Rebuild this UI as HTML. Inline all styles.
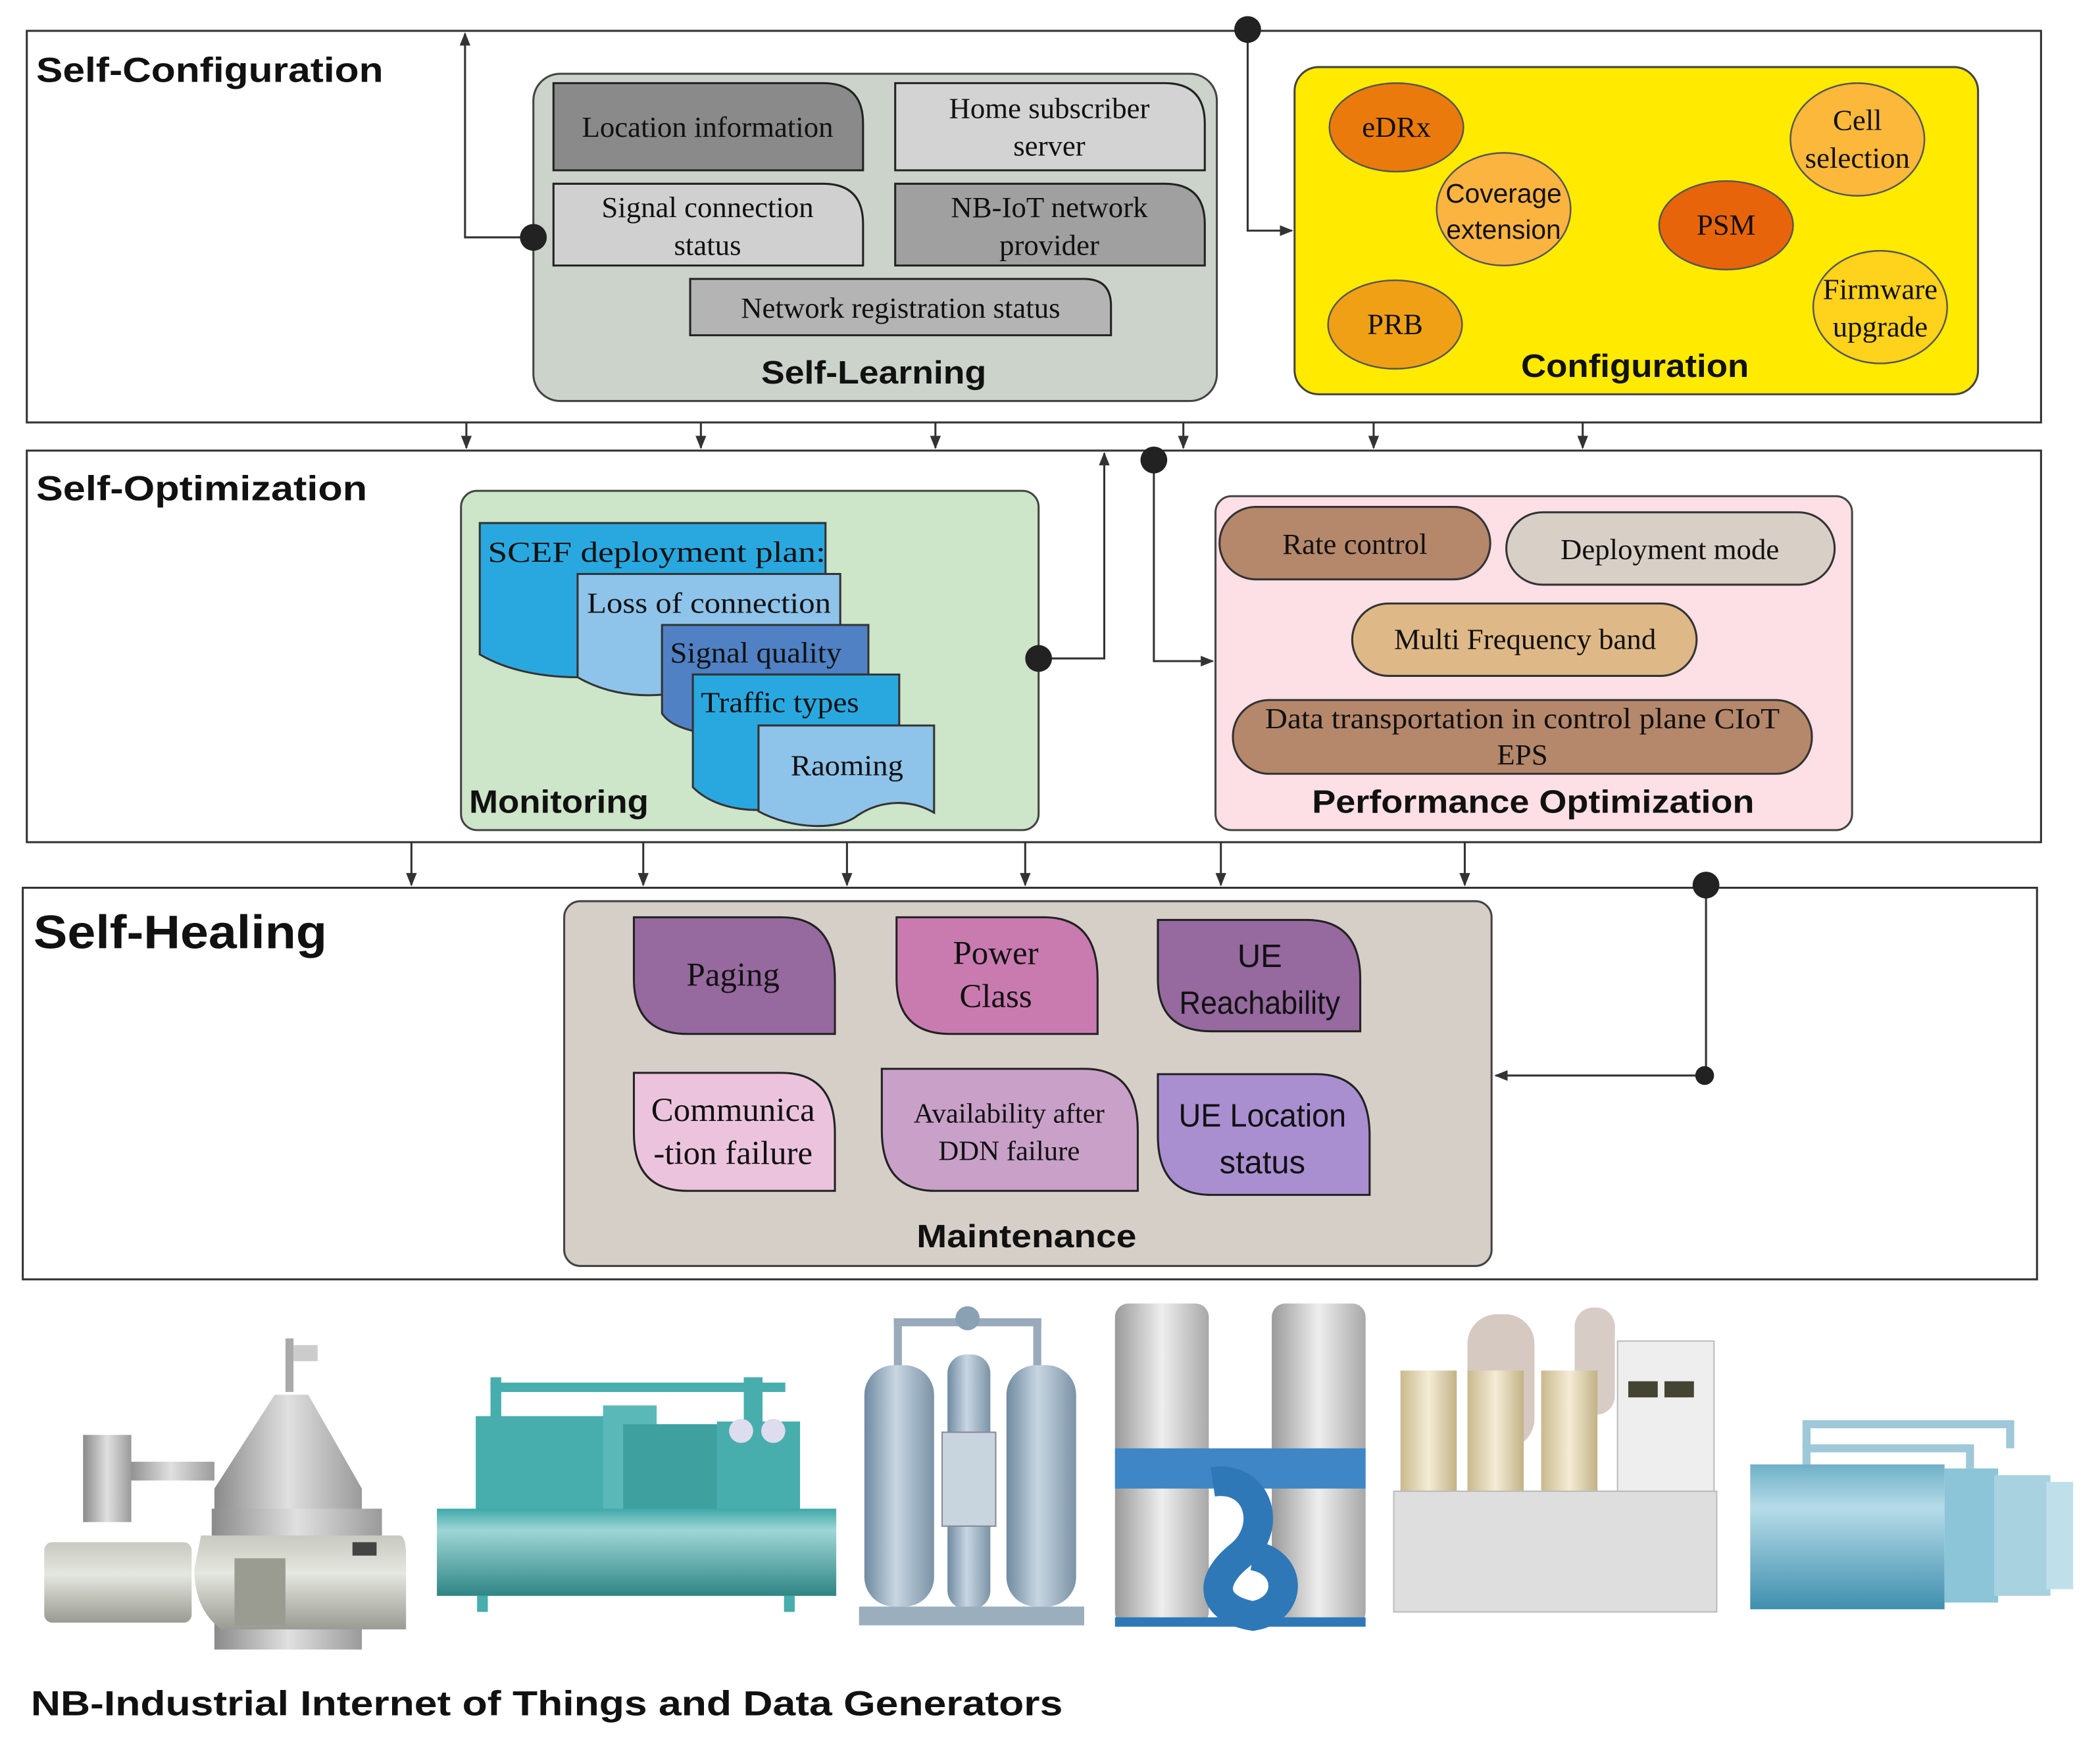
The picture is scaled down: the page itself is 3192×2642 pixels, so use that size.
<!DOCTYPE html>
<html><head><meta charset="utf-8"><style>
html,body{margin:0;padding:0;background:#fff}
svg{display:block}
.t{font-family:"Liberation Serif",serif;font-size:22px;fill:#111;text-anchor:middle}
.s{font-family:"Liberation Sans",sans-serif}
.h{font-family:"Liberation Sans",sans-serif;font-weight:bold;fill:#111}
</style></head><body>
<svg width="3192" height="2642" viewBox="0 0 1567 1296" preserveAspectRatio="none" xmlns="http://www.w3.org/2000/svg">
<defs>
<marker id="a" markerWidth="10" markerHeight="10" refX="9" refY="5" orient="auto" markerUnits="userSpaceOnUse"><path d="M0,1 L10,5 L0,9 z" fill="#333"/></marker>
<linearGradient id="gray" x1="0" x2="1"><stop offset="0" stop-color="#8a8a8a"/><stop offset=".5" stop-color="#e0e0e0"/><stop offset="1" stop-color="#9a9a9a"/></linearGradient>
<linearGradient id="gv" x1="0" y1="0" x2="0" y2="1"><stop offset="0" stop-color="#c8cac0"/><stop offset=".4" stop-color="#e4e6e0"/><stop offset="1" stop-color="#9a9c92"/></linearGradient>
<linearGradient id="teal" x1="0" y1="0" x2="0" y2="1"><stop offset="0" stop-color="#3fa8a8"/><stop offset=".25" stop-color="#9fd6d6"/><stop offset="1" stop-color="#2f8585"/></linearGradient>
<linearGradient id="steel" x1="0" x2="1"><stop offset="0" stop-color="#6f8aa0"/><stop offset=".45" stop-color="#c8d6e2"/><stop offset="1" stop-color="#7b93a6"/></linearGradient>
<linearGradient id="col" x1="0" x2="1"><stop offset="0" stop-color="#9a9a9a"/><stop offset=".5" stop-color="#eeeeee"/><stop offset="1" stop-color="#a8a8a8"/></linearGradient>
<linearGradient id="beige" x1="0" x2="1"><stop offset="0" stop-color="#c9b98e"/><stop offset=".5" stop-color="#f4ecd6"/><stop offset="1" stop-color="#c2b286"/></linearGradient>
<linearGradient id="lb" x1="0" y1="0" x2="0" y2="1"><stop offset="0" stop-color="#6fb0c8"/><stop offset=".3" stop-color="#b6dbe8"/><stop offset="1" stop-color="#3f8fae"/></linearGradient>
</defs>
<g fill="none" stroke="#333" stroke-width="1.5">
<rect x="20" y="23" width="1503" height="292"/>
<rect x="20" y="336" width="1503" height="292"/>
<rect x="17" y="662" width="1503" height="292"/>
</g>
<text class="h" x="27" y="61" font-size="26" textLength="259" lengthAdjust="spacingAndGlyphs">Self-Configuration</text>
<text class="h" x="27" y="373" font-size="26" textLength="247" lengthAdjust="spacingAndGlyphs">Self-Optimization</text>
<text class="h" x="25" y="707" font-size="35" textLength="219" lengthAdjust="spacingAndGlyphs">Self-Healing</text>

<!-- Self-Learning -->
<rect x="398" y="55" width="510" height="244" rx="20" fill="#cbd3cb" stroke="#444" stroke-width="1.5"/>
<g stroke="#222" stroke-width="1.5">
<path d="M413,62 H614 Q644,62 644,92 V127 H413 Z" fill="#8a8a8a"/>
<path d="M668,62 H869 Q899,62 899,92 V127 H668 Z" fill="#d3d3d3"/>
<path d="M413,137 H614 Q644,137 644,167 V198 H413 Z" fill="#d0d0d0"/>
<path d="M668,137 H869 Q899,137 899,167 V198 H668 Z" fill="#a0a0a0"/>
<path d="M515,208 H809 Q829,208 829,228 V250 H515 Z" fill="#b4b4b4"/>
</g>
<text class="t" x="528" y="102">Location information</text>
<text class="t" x="783" y="88">Home subscriber</text><text class="t" x="783" y="116">server</text>
<text class="t" x="528" y="162">Signal connection</text><text class="t" x="528" y="190">status</text>
<text class="t" x="783" y="162">NB-IoT network</text><text class="t" x="783" y="190">provider</text>
<text class="t" x="672" y="237">Network registration status</text>
<text class="h" x="652" y="286" font-size="24" text-anchor="middle" textLength="168" lengthAdjust="spacingAndGlyphs">Self-Learning</text>

<!-- Configuration -->
<rect x="966" y="50" width="510" height="244" rx="18" fill="#ffea00" stroke="#444" stroke-width="1.5"/>
<g stroke="#555" stroke-width="1.2">
<ellipse cx="1042" cy="95" rx="50" ry="33" fill="#ea7a0c"/>
<ellipse cx="1122" cy="156" rx="50" ry="42" fill="#fbb440"/>
<ellipse cx="1386" cy="104" rx="50" ry="42" fill="#fbb83a"/>
<ellipse cx="1288" cy="168" rx="50" ry="33" fill="#e8640a"/>
<ellipse cx="1041" cy="242" rx="50" ry="33" fill="#f0a014"/>
<ellipse cx="1403" cy="229" rx="50" ry="42" fill="#ffd21c"/>
</g>
<text class="t" x="1042" y="102">eDRx</text>
<text class="t s" x="1122" y="151" style="font-size:20px">Coverage</text>
<text class="t s" x="1122" y="178" style="font-size:20px">extension</text>
<text class="t" x="1386" y="97">Cell</text><text class="t" x="1386" y="125">selection</text>
<text class="t" x="1288" y="175">PSM</text>
<text class="t" x="1041" y="249">PRB</text>
<text class="t" x="1403" y="223">Firmware</text><text class="t" x="1403" y="251">upgrade</text>
<text class="h" x="1220" y="281" font-size="24" text-anchor="middle" textLength="170" lengthAdjust="spacingAndGlyphs">Configuration</text>

<!-- connectors -->
<g stroke="#333" stroke-width="1.5" fill="none">
<path d="M931,22 V172 H964" marker-end="url(#a)"/>
<path d="M398,177 H347 V25" marker-end="url(#a)"/>
<path d="M348,315 V334" marker-end="url(#a)"/>
<path d="M523,315 V334" marker-end="url(#a)"/>
<path d="M698,315 V334" marker-end="url(#a)"/>
<path d="M883,315 V334" marker-end="url(#a)"/>
<path d="M1025,315 V334" marker-end="url(#a)"/>
<path d="M1181,315 V334" marker-end="url(#a)"/>
<path d="M775,491 H824 V338" marker-end="url(#a)"/>
<path d="M861,343 V493 H905" marker-end="url(#a)"/>
<path d="M307,628 V660" marker-end="url(#a)"/>
<path d="M480,628 V660" marker-end="url(#a)"/>
<path d="M632,628 V660" marker-end="url(#a)"/>
<path d="M765,628 V660" marker-end="url(#a)"/>
<path d="M911,628 V660" marker-end="url(#a)"/>
<path d="M1093,628 V660" marker-end="url(#a)"/>
<path d="M1273,660 V802 H1116" marker-end="url(#a)"/>
</g>

<!-- Monitoring -->
<rect x="344" y="366" width="431" height="253" rx="12" fill="#cde5c8" stroke="#444" stroke-width="1.5"/>
<g stroke="#333" stroke-width="1.5">
<path d="M358,390 H616 V500 H431 V505 C400,505 375,498 358,488 Z" fill="#29a8e0"/>
<path d="M431,428 H627 V470 H494 V518 C470,520 448,515 431,505 Z" fill="#8ec3ea"/>
<path d="M494,466 H648 V503 H517 V545 C505,542 498,538 494,532 Z" fill="#4f81c4"/>
<path d="M517,503 H671 V541 H566 V604 C545,604 528,598 517,587 Z" fill="#29a8e0"/>
<path d="M566,541 H697 V606 C680,596 658,596 640,608 C625,620 590,618 566,605 Z" fill="#8ec3ea"/>
</g>
<text class="t" x="364" y="419" style="text-anchor:start" textLength="252" lengthAdjust="spacingAndGlyphs">SCEF deployment plan:</text>
<text class="t" x="438" y="457" style="text-anchor:start" textLength="182" lengthAdjust="spacingAndGlyphs">Loss of connection</text>
<text class="t" x="500" y="494" style="text-anchor:start" textLength="128" lengthAdjust="spacingAndGlyphs">Signal quality</text>
<text class="t" x="523" y="531" style="text-anchor:start" textLength="118" lengthAdjust="spacingAndGlyphs">Traffic types</text>
<text class="t" x="590" y="578" style="text-anchor:start" textLength="84" lengthAdjust="spacingAndGlyphs">Raoming</text>
<text class="h" x="350" y="606" font-size="24" textLength="134" lengthAdjust="spacingAndGlyphs">Monitoring</text>

<!-- Performance Optimization -->
<rect x="907" y="370" width="475" height="249" rx="12" fill="#fde0e6" stroke="#444" stroke-width="1.5"/>
<g stroke="#333" stroke-width="1.5">
<rect x="910" y="378" width="202" height="54" rx="27" fill="#b5876b"/>
<rect x="1124" y="382" width="245" height="54" rx="27" fill="#d8cfc6"/>
<rect x="1009" y="450" width="257" height="54" rx="27" fill="#dfb887"/>
<rect x="920" y="522" width="432" height="55" rx="27" fill="#b5876b"/>
</g>
<text class="t" x="1011" y="413">Rate control</text>
<text class="t" x="1246" y="417">Deployment mode</text>
<text class="t" x="1138" y="484">Multi Frequency band</text>
<text class="t" x="1136" y="543" textLength="384" lengthAdjust="spacingAndGlyphs">Data transportation in control plane CIoT</text>
<text class="t" x="1136" y="570">EPS</text>
<text class="h" x="1144" y="606" font-size="24" text-anchor="middle" textLength="330" lengthAdjust="spacingAndGlyphs">Performance Optimization</text>

<!-- Maintenance -->
<rect x="421" y="672" width="692" height="272" rx="12" fill="#d5cfc8" stroke="#444" stroke-width="1.5"/>
<g stroke="#222" stroke-width="1.5">
<path d="M473,684 H583 Q623,684 623,730 V771 H513 Q473,771 473,730 Z" fill="#96699f"/>
<path d="M669,684 H779 Q819,684 819,730 V771 H709 Q669,771 669,730 Z" fill="#c97bb0"/>
<path d="M864,686 H975 Q1015,686 1015,730 V769 H904 Q864,769 864,730 Z" fill="#96699f"/>
<path d="M473,800 H583 Q623,800 623,845 V888 H513 Q473,888 473,845 Z" fill="#ecc3dd"/>
<path d="M658,797 H809 Q849,797 849,843 V888 H698 Q658,888 658,843 Z" fill="#c8a0c8"/>
<path d="M864,801 H982 Q1022,801 1022,847 V891 H904 Q864,891 864,847 Z" fill="#a98fd0"/>
</g>
<text class="t" x="547" y="735" style="font-size:25px">Paging</text>
<text class="t" x="743" y="719" style="font-size:25px">Power</text><text class="t" x="743" y="751" style="font-size:25px">Class</text>
<text class="t s" x="940" y="721" style="font-size:24px">UE</text>
<text class="t s" x="940" y="756" style="font-size:24px" textLength="120" lengthAdjust="spacingAndGlyphs">Reachability</text>
<text class="t" x="547" y="836" style="font-size:25px">Communica</text><text class="t" x="547" y="868" style="font-size:25px">-tion failure</text>
<text class="t" x="753" y="837" style="font-size:21px">Availability after</text><text class="t" x="753" y="865" style="font-size:21px">DDN failure</text>
<text class="t s" x="942" y="840" style="font-size:24px" textLength="125" lengthAdjust="spacingAndGlyphs">UE Location</text>
<text class="t s" x="942" y="875" style="font-size:24px">status</text>
<text class="h" x="766" y="930" font-size="24" text-anchor="middle" textLength="164" lengthAdjust="spacingAndGlyphs">Maintenance</text>

<g fill="#222"><circle cx="931" cy="22" r="10"/><circle cx="398" cy="177" r="10"/><circle cx="775" cy="491" r="10"/><circle cx="861" cy="343" r="10"/><circle cx="1273" cy="660" r="10"/><circle cx="1272" cy="802" r="7"/></g>

<!-- Machines -->
<g>
<rect x="213" y="998" width="6" height="40" fill="#aaa"/><rect x="219" y="1003" width="18" height="12" fill="#ccc"/>
<path d="M205,1040 H230 L270,1110 V1230 H160 V1110 Z" fill="url(#gray)"/>
<rect x="158" y="1125" width="127" height="50" fill="url(#gray)"/>
<rect x="95" y="1090" width="65" height="14" fill="url(#gray)"/>
<rect x="62" y="1070" width="36" height="65" fill="url(#gray)"/>
<rect x="165" y="1172" width="112" height="20" fill="#c5c8bf"/>
<rect x="33" y="1150" width="110" height="60" rx="6" fill="url(#gv)"/>
<path d="M150,1145 H298 Q303,1145 303,1160 V1215 H165 Q145,1200 145,1170 Z" fill="url(#gv)"/>
<rect x="175" y="1162" width="38" height="50" fill="#9a9c92"/>
<rect x="263" y="1150" width="18" height="10" fill="#444"/>
</g>
<g fill="#48adad">
<rect x="366" y="1027" width="8" height="40"/><rect x="366" y="1031" width="220" height="7"/>
<rect x="555" y="1027" width="14" height="40"/>
<rect x="355" y="1056" width="110" height="90"/>
<rect x="450" y="1048" width="40" height="90" fill="#5bb8b8"/>
<rect x="465" y="1062" width="98" height="84" fill="#3fa0a0"/>
<rect x="535" y="1060" width="62" height="95"/>
<circle cx="553" cy="1067" r="9" fill="#dde"/><circle cx="577" cy="1067" r="9" fill="#dde"/>
<rect x="326" y="1125" width="298" height="65" fill="url(#teal)"/>
<rect x="356" y="1190" width="8" height="12"/><rect x="585" y="1190" width="8" height="12"/>
</g>
<g>
<rect x="667" y="983" width="110" height="6" fill="#9ab"/>
<rect x="667" y="983" width="6" height="40" fill="#9ab"/><rect x="771" y="983" width="6" height="40" fill="#9ab"/>
<circle cx="722" cy="983" r="9" fill="#8aa0b3"/>
<rect x="645" y="1018" width="52" height="180" rx="22" fill="url(#steel)"/>
<rect x="707" y="1010" width="32" height="190" rx="14" fill="url(#steel)"/>
<rect x="751" y="1018" width="52" height="180" rx="22" fill="url(#steel)"/>
<rect x="703" y="1068" width="40" height="70" fill="#c8d4de" stroke="#889" stroke-width="1"/>
<rect x="641" y="1198" width="168" height="14" fill="#9aaebd"/>
</g>
<g>
<rect x="832" y="972" width="70" height="240" rx="10" fill="url(#col)"/>
<rect x="949" y="972" width="70" height="240" rx="10" fill="url(#col)"/>
<rect x="832" y="1080" width="187" height="30" fill="#3f86c6"/>
<path d="M905,1105 C940,1100 950,1140 925,1160 C900,1180 905,1200 935,1205 C965,1200 965,1165 935,1160" fill="none" stroke="#2f78b8" stroke-width="22"/>
<rect x="832" y="1206" width="187" height="7" fill="#2f78b8"/>
</g>
<g>
<rect x="1095" y="980" width="50" height="100" rx="22" fill="#d6c9c2"/>
<rect x="1175" y="975" width="30" height="80" rx="14" fill="#d8ccc6"/>
<rect x="1045" y="1022" width="42" height="90" fill="url(#beige)"/>
<rect x="1095" y="1022" width="42" height="90" fill="url(#beige)"/>
<rect x="1150" y="1022" width="42" height="90" fill="url(#beige)"/>
<rect x="1207" y="1000" width="72" height="112" fill="#eeeeee" stroke="#bbb"/>
<rect x="1215" y="1030" width="22" height="12" fill="#443"/><rect x="1242" y="1030" width="22" height="12" fill="#443"/>
<rect x="1040" y="1112" width="241" height="90" fill="#dedede" stroke="#bbb"/>
</g>
<g>
<path d="M1348,1080 V1062 H1500 V1080" fill="none" stroke="#9fc8d8" stroke-width="6"/>
<path d="M1348,1095 V1080 H1470 V1095" fill="none" stroke="#9fc8d8" stroke-width="6"/>
<rect x="1306" y="1092" width="145" height="108" fill="url(#lb)"/>
<rect x="1451" y="1095" width="40" height="100" fill="#8cc4d8"/>
<rect x="1488" y="1100" width="42" height="90" fill="#a8d2e0"/>
<rect x="1527" y="1105" width="20" height="80" fill="#bfe0ea"/>
</g>
<text class="h" x="23" y="1279" font-size="26" textLength="770" lengthAdjust="spacingAndGlyphs">NB-Industrial Internet of Things and Data Generators</text>
</svg>
</body></html>
